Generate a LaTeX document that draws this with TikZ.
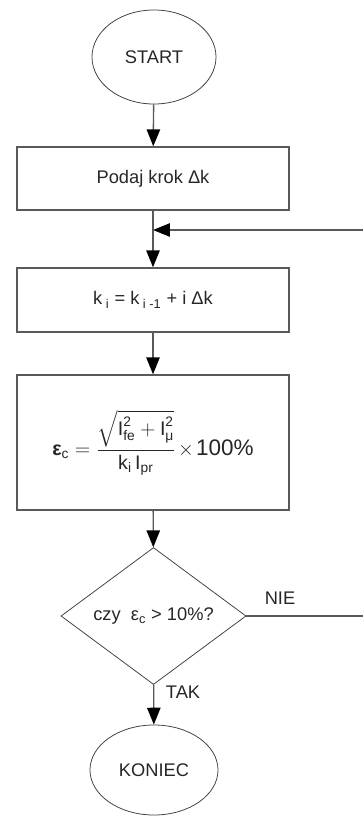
\documentclass[tikz,border=0pt]{standalone}
\usepackage{amsmath}
\usepackage{fontspec}
\setmainfont{Liberation Sans}
\usetikzlibrary{arrows.meta, shapes.geometric}

\begin{document}
\begin{tikzpicture}[
    x=0.025cm, y=-0.025cm,
    box/.style={draw=black!65, line width=1pt, minimum width=6.8cm, align=center, text=black!85, font=\fontsize{13}{15}\selectfont},
    term/.style={draw=black!75, line width=0.55pt, ellipse, inner sep=0pt, text=black!85, font=\fontsize{13}{15}\selectfont},
    decision/.style={draw=black!75, line width=0.55pt, diamond, inner sep=0pt, minimum width=4.625cm, minimum height=3.025cm, text=black!85, font=\fontsize{13}{15}\selectfont},
    lbl/.style={text=black!85, font=\fontsize{13}{15}\selectfont},
    flow/.style={draw=black!65, line width=1pt, -{Triangle[length=12pt, width=9.5pt, color=black]}},
    line/.style={draw=black!65, line width=1pt}
]
  \useasboundingbox (0,0) rectangle (363,816);

  \node[term, minimum width=3.1cm, minimum height=2.35cm] (start) at (154, 57) {START};

  \node[box, minimum height=1.575cm] (s1) at (153, 178.5) {Podaj krok Δk};

  \node[box, minimum height=1.6cm] (s2) at (153, 300) {k\textsubscript{ i} = k\textsubscript{ i -1} + i Δk};

  \node[box, minimum height=3.375cm, font=\fontsize{14}{17}\selectfont] (s3) at (153, 442.5)
    {$\textbf{ε}_{\text{c}} = \dfrac{\sqrt{\text{I}^{\text{2}}_{\text{fe}} + \text{I}^{\text{2}}_{\text{μ}}}}{\text{k}_{\text{i}}\,\text{I}_{\text{pr}}}\mskip-2mu\times\mskip-2mu\text{\fontsize{16}{18}\selectfont 100\%}$};

  \node[decision] (dec) at (153.5, 616) {czy~~ε\textsubscript{c} > 10\%?};

  \node[term, minimum width=3.2cm, minimum height=2.25cm] (stop) at (154, 770) {KONIEC};

  \coordinate (join) at (153, 230);
  \coordinate (back) at (363, 230);
  \coordinate (out) at (363, 616);

  \draw[flow] (start) -- (s1);
  \draw[flow] (s1) -- (s2);
  \draw[flow] (back) -- (join);
  \draw[flow] (s2) -- (s3);
  \draw[flow] (s3) -- (dec);
  \draw[flow] (dec) -- (stop);
  \draw[line] (dec.east) -- (out);

  \node[lbl] (nie) at (280, 598) {NIE};
  \node[lbl, anchor=west] (tak) at (161, 692) {TAK};
\end{tikzpicture}
\end{document}
